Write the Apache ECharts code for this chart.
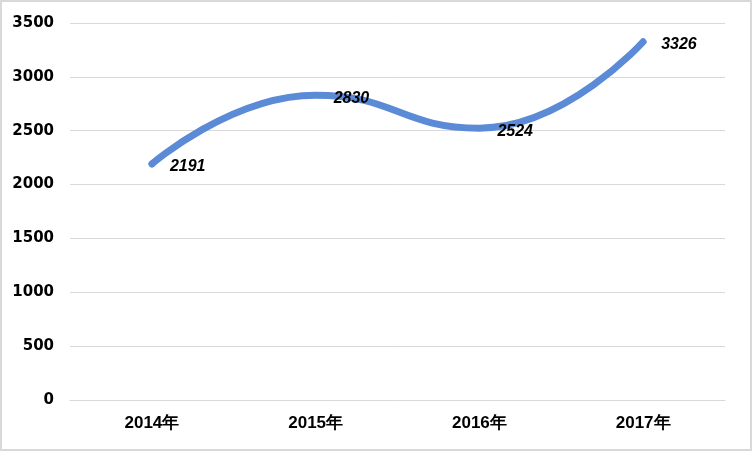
<!DOCTYPE html>
<html><head><meta charset="utf-8">
<script src="https://cdn.jsdelivr.net/npm/echarts@6/dist/echarts.min.js"></script>
<style>
html,body{margin:0;padding:0;background:#fff;}
#c{width:748px;height:447px;border:2px solid #d9d9d9;}
</style></head>
<body><div id="c"></div>
<script>
const categories = ['2014年','2015年','2016年','2017年'];
const values = [2191, 2830, 2524, 3326];
const yTicks = {min:0, max:3500, interval:500};

const chart = echarts.init(document.getElementById('c'));
chart.setOption({
  animation:false,
  grid:{left:68, right:25, top:21, bottom:49},
  xAxis:{
    type:'category', data:categories, boundaryGap:true,
    axisLine:{show:true, lineStyle:{color:'#d9d9d9'}}, axisTick:{show:false},
    axisLabel:{margin:15, color:'#000', fontWeight:'bold', fontSize:17, fontFamily:'Liberation Sans Narrow, Arial Narrow, sans-serif'}
  },
  yAxis:{
    type:'value', min:yTicks.min, max:yTicks.max, interval:yTicks.interval,
    axisLine:{show:false}, axisTick:{show:false},
    splitLine:{lineStyle:{color:'#d9d9d9', width:1}},
    axisLabel:{margin:16, color:'#000', fontWeight:'bold', fontSize:15, fontFamily:'DejaVu Sans, sans-serif',
      formatter:function(v){return String(v);}}
  },
  series:[{
    type:'line', data:values, smooth:0.5,
    symbol:'circle', symbolSize:2, showSymbol:true,
    itemStyle:{color:'rgba(0,0,0,0)', borderWidth:0},
    lineStyle:{color:'#5B8BD6', width:7, cap:'round', join:'round'},
    label:{show:true, position:'right', distance:17, offset:[0,3],
      color:'#000', fontWeight:'bold', fontStyle:'italic', fontSize:16, fontFamily:'Liberation Sans, Arial, sans-serif'}
  }]
});
</script></body></html>
